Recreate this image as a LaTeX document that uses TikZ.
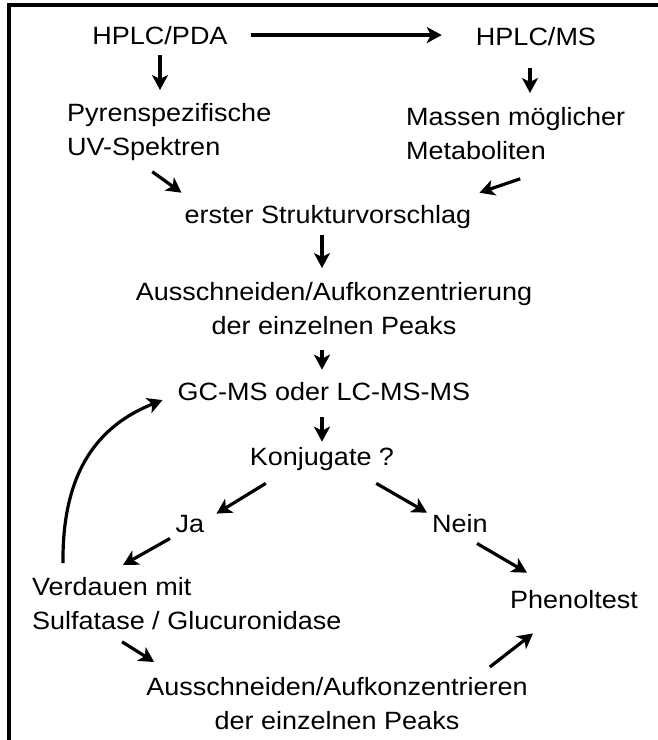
\documentclass[tikz,border=0pt]{standalone}
\usepackage{fontspec}
\setmainfont{Liberation Sans}[FakeStretch=1.08]
\usepackage{tikz}
\usetikzlibrary{arrows.meta,calc}

\tikzset{
    lbl/.style={inner sep=0pt, font=\fontsize{25}{34}\selectfont},
    arr/.style={-{Stealth[length=15pt,width=16pt,inset=4pt]}, line width=3.2pt}
}

\begin{document}
\begin{tikzpicture}[x=1pt, y=-1pt]
    \useasboundingbox (0,0) rectangle (658,740);

    % Frame
    \draw[line width=3.5pt] (9,740) -- (9,5) -- (658,5);

    % Upper part
    \node[lbl, anchor=base] (pda) at (160, 44) {HPLC/PDA};
    \node[lbl, anchor=base] (ms) at (536, 45) {HPLC/MS};
    \node[lbl, anchor=north west, align=left] (pyren) at (67, 103) {Pyrenspezifische\\UV-Spektren};
    \node[lbl, anchor=north west, align=left] (massen) at (406, 107) {Massen m\"oglicher\\Metaboliten};
    \node[lbl, anchor=base] (erster) at (328, 223) {erster Strukturvorschlag};
    \node[lbl, anchor=north, align=center] (aus1) at (334, 282) {Ausschneiden/Aufkonzentrierung\\der einzelnen Peaks};
    \node[lbl, anchor=base] (gcms) at (324, 400) {GC-MS oder LC-MS-MS};
    \node[lbl, anchor=base] (konj) at (322, 465) {Konjugate ?};

    % Lower part
    \node[lbl, anchor=base] (ja) at (190, 532) {Ja};
    \node[lbl, anchor=base] (nein) at (460, 532) {Nein};
    \node[lbl, anchor=north west, align=left] (verdauen) at (32, 577) {Verdauen mit\\Sulfatase / Glucuronidase};
    \node[lbl, anchor=base] (phenol) at (574, 608) {Phenoltest};
    \node[lbl, anchor=north, align=center] (aus2) at (337, 677) {Ausschneiden/Aufkonzentrieren\\der einzelnen Peaks};

    % Flow
    \draw[arr, shorten <=23pt, shorten >=34pt] (pda.east) -- (pda.east -| ms.west);
    \draw[arr, shorten <=11pt, shorten >=13pt] (pda.south) -- (pda.south |- pyren.north);
    \draw[arr, shorten <=23pt, shorten >=14pt] ([xshift=-6pt]ms.south) -- ([xshift=-6pt]ms.south |- massen.north);
    \draw[arr] ([shift={(-17,11)}]pyren.south) -- ([shift={(-3,-12)}]erster.north west);
    \draw[arr] ([shift={(4.5,19)}]massen.south) -- ([shift={(8,-12)}]erster.north east);
    \draw[arr, shorten <=7pt, shorten >=14pt] ([xshift=-6pt]erster.south) -- ([xshift=-6pt]erster.south |- aus1.north);
    \draw[arr, shorten <=15pt, shorten >=12pt] ([xshift=-12pt]aus1.south) -- ([xshift=-12pt]aus1.south |- gcms.north);
    \draw[arr, shorten <=17pt, shorten >=5pt] (gcms.south -| konj.north) -- (konj.north);
    \draw[arr] ([shift={(16,13)}]konj.south west) -- ([shift={(12,-1)}]ja.north east);
    \draw[arr] ([shift={(-18,13)}]konj.south east) -- ([shift={(-5,-1)}]nein.north west);
    \draw[arr] ([shift={(-20,6)}]ja.south) -- ([shift={(91,-12)}]verdauen.north west);
    \draw[arr] ([shift={(31,-14)}]verdauen.north west) .. controls +(-1,-93) and +(-63,25) .. ([shift={(-15,9)}]gcms.west);
    \draw[arr] ([shift={(17,11)}]nein.south) -- ([shift={(17,-17)}]phenol.north west);
    \draw[arr] ([shift={(90,12)}]verdauen.south west) -- ([shift={(8,-15)}]aus2.north west);
    \draw[arr] ([shift={(-38,-10)}]aus2.north east) -- ([shift={(23,25)}]phenol.south west);
\end{tikzpicture}
\end{document}
